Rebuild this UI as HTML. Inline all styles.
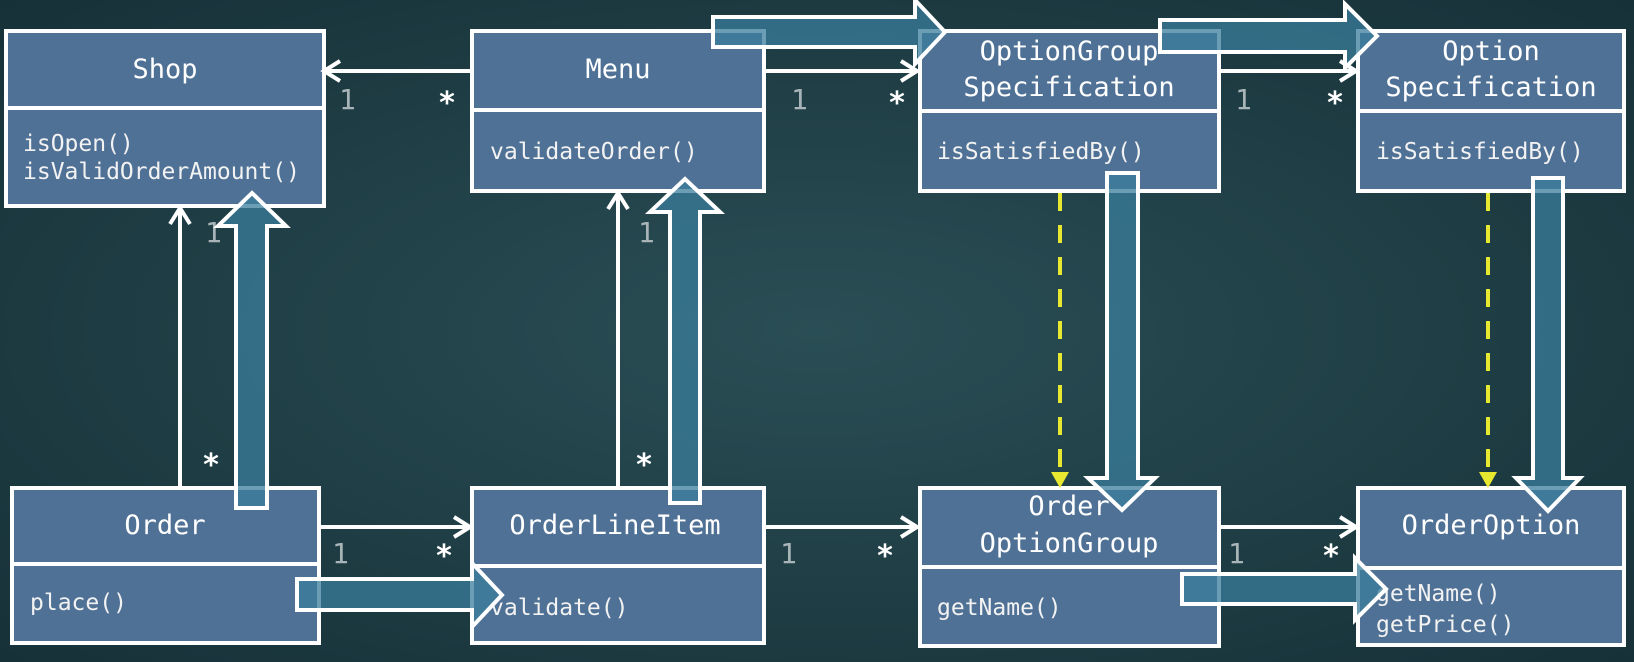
<!DOCTYPE html>
<html><head><meta charset="utf-8"><style>
html,body{margin:0;padding:0;background:#1e3d44;}
svg{display:block}
.t{font-family:"DejaVu Sans Mono","Liberation Mono",monospace;fill:#fff;font-size:27px}
.m{font-family:"DejaVu Sans Mono","Liberation Mono",monospace;fill:#f2f2f2;font-size:23px}
.g{font-family:"DejaVu Sans Mono",monospace;fill:#a8b4b8;font-size:28px}
.s{font-family:"DejaVu Sans Mono",monospace;fill:#fff;font-size:30px;font-weight:bold}
</style></head><body>
<svg width="1634" height="662" viewBox="0 0 1634 662" xmlns="http://www.w3.org/2000/svg">
<defs>
<radialGradient id="bg" cx="50%" cy="50%" r="70%">
<stop offset="0" stop-color="#2a4e55"/><stop offset="1" stop-color="#173138"/>
</radialGradient>
</defs>
<rect width="1634" height="662" fill="url(#bg)"/>
<g fill="#4f7196" stroke="#fff" stroke-width="4">
<rect x="6" y="31" width="318" height="175"/><line x1="6" y1="108" x2="324" y2="108"/>
<rect x="472" y="31" width="292" height="160"/><line x1="472" y1="110" x2="764" y2="110"/>
<rect x="920" y="31" width="299" height="160"/><line x1="920" y1="111" x2="1219" y2="111"/>
<rect x="1358" y="31" width="266" height="160"/><line x1="1358" y1="111" x2="1624" y2="111"/>
<rect x="12" y="488" width="307" height="155"/><line x1="12" y1="564" x2="319" y2="564"/>
<rect x="472" y="488" width="292" height="155"/><line x1="472" y1="566" x2="764" y2="566"/>
<rect x="920" y="488" width="299" height="158"/><line x1="920" y1="567" x2="1219" y2="567"/>
<rect x="1358" y="488" width="266" height="157"/><line x1="1358" y1="568" x2="1624" y2="568"/>
</g>
<g text-anchor="middle" class="t">
<text x="165" y="78" class="t">Shop</text>
<text x="618" y="78" class="t">Menu</text>
<text x="1069" y="60" class="t">OptionGroup</text>
<text x="1069" y="96" class="t">Specification</text>
<text x="1491" y="60" class="t">Option</text>
<text x="1491" y="96" class="t">Specification</text>
<text x="165" y="534" class="t">Order</text>
<text x="615" y="534" class="t">OrderLineItem</text>
<text x="1069" y="515" class="t">Order</text>
<text x="1069" y="552" class="t">OptionGroup</text>
<text x="1491" y="534" class="t">OrderOption</text>
</g>
<text x="23" y="151" class="m">isOpen()</text>
<text x="23" y="179" class="m">isValidOrderAmount()</text>
<text x="490" y="159" class="m">validateOrder()</text>
<text x="937" y="159" class="m">isSatisfiedBy()</text>
<text x="1376" y="159" class="m">isSatisfiedBy()</text>
<text x="30" y="610" class="m">place()</text>
<text x="490" y="615" class="m">validate()</text>
<text x="937" y="615" class="m">getName()</text>
<text x="1376" y="601" class="m">getName()</text>
<text x="1376" y="632" class="m">getPrice()</text>
<g stroke="#fff" stroke-width="4" fill="none">
<line x1="470" y1="71" x2="324" y2="71"/><polyline points="340,61 324,71 340,81"/>
<line x1="766" y1="71" x2="917" y2="71"/><polyline points="901,61 917,71 901,81"/>
<line x1="1221" y1="71" x2="1356" y2="71"/><polyline points="1340,61 1356,71 1340,81"/>
<line x1="180" y1="486" x2="180" y2="208"/><polyline points="170,224 180,208 190,224"/>
<line x1="618" y1="486" x2="618" y2="193"/><polyline points="608,209 618,193 628,209"/>
<line x1="321" y1="527" x2="470" y2="527"/><polyline points="454,517 470,527 454,537"/>
<line x1="766" y1="527" x2="917" y2="527"/><polyline points="901,517 917,527 901,537"/>
<line x1="1221" y1="527" x2="1356" y2="527"/><polyline points="1340,517 1356,527 1340,537"/>
</g>
<g stroke="#e8e830" stroke-width="4" stroke-dasharray="18 14" fill="none">
<line x1="1060" y1="193" x2="1060" y2="478"/><line x1="1488" y1="193" x2="1488" y2="478"/>
</g>
<g fill="#e8e830">
<polygon points="1051,472 1069,472 1060,488"/><polygon points="1479,472 1497,472 1488,488"/>
</g>
<g class="g">
<text x="339" y="109">1</text><text x="791" y="109">1</text><text x="1235" y="109">1</text>
<text x="205" y="242">1</text><text x="638" y="242">1</text>
<text x="332" y="563">1</text><text x="780" y="563">1</text><text x="1228" y="563">1</text>
</g>
<g class="s">
<text x="438" y="113">*</text><text x="888" y="113">*</text><text x="1326" y="113">*</text>
<text x="202" y="475">*</text><text x="635" y="475">*</text>
<text x="435" y="566">*</text><text x="876" y="566">*</text><text x="1322" y="566">*</text>
</g>
<g fill="rgba(58,125,155,0.75)" stroke="#fff" stroke-width="4" stroke-linejoin="miter">
<polygon points="713,17 915,17 915,0 945,32 915,64 915,47 713,47"/>
<polygon points="1160,20 1345,20 1345,4 1377,36 1345,68 1345,52 1160,52"/>
<polygon points="236,508 236,226 218,226 252,193 286,226 267,226 267,508"/>
<polygon points="670,503 670,212 650,212 685,179 720,212 700,212 700,503"/>
<polygon points="1107,173 1138,173 1138,478 1155,478 1122,510 1088,478 1107,478"/>
<polygon points="1533,178 1563,178 1563,478 1580,478 1548,511 1516,478 1533,478"/>
<polygon points="297,579 472,579 472,563 502,595 472,627 472,610 297,610"/>
<polygon points="1182,574 1355,574 1355,558 1386,589 1355,620 1355,604 1182,604"/>
</g>
</svg>
</body></html>
